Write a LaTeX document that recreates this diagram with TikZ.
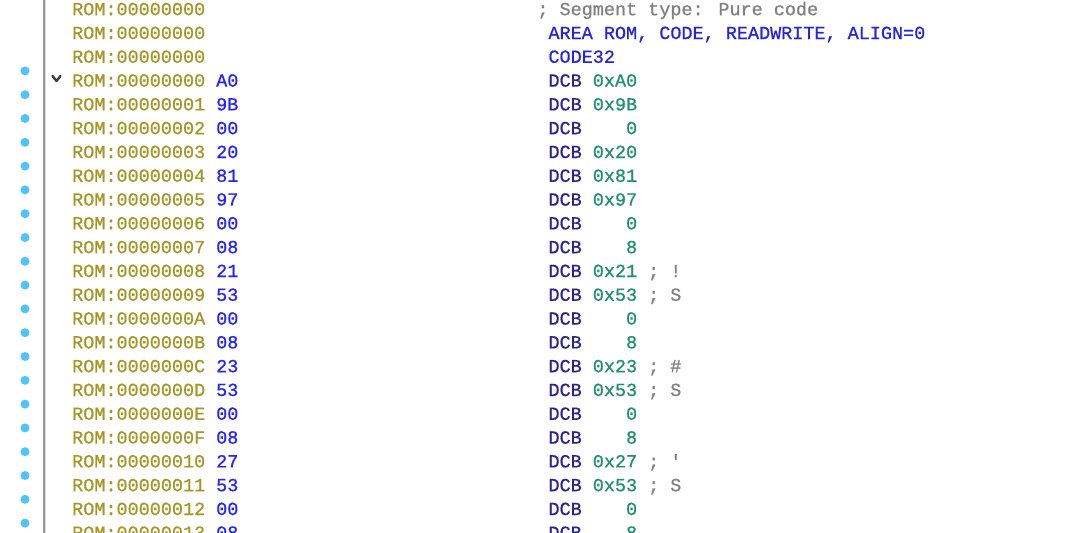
\documentclass[tikz,border=0pt]{standalone}
\usepackage{fontspec}
\newfontfamily\codefont[FakeBold=0.7]{Liberation Mono}
\definecolor{addrc}{RGB}{165,150,35}
\definecolor{bytec}{RGB}{35,35,255}
\definecolor{dcbc}{RGB}{40,35,145}
\definecolor{valc}{RGB}{30,145,110}
\definecolor{cmtc}{RGB}{128,128,128}
\definecolor{dirc}{RGB}{35,35,225}
\definecolor{dotc}{RGB}{80,195,250}
\definecolor{barc}{RGB}{150,150,150}
\definecolor{chevc}{RGB}{60,60,60}
\begin{document}
\begin{tikzpicture}[x=1pt,y=-1pt,
  txt/.style={inner sep=0pt, anchor=base west, font=\codefont\fontsize{18.47}{20}\selectfont},
  addr/.style={txt, text=addrc},
  byte/.style={txt, text=bytec},
  dcb/.style={txt, text=dcbc},
  val/.style={txt, text=valc},
  cmt/.style={txt, text=cmtc},
  dir/.style={txt, text=dirc},
  bluedot/.style={circle, fill=dotc, draw=none, inner sep=0pt, minimum size=9pt},
]
\clip (0,0) rectangle (1080,533);
\fill[white] (0,0) rectangle (1080,533);
% separator bar
\draw[barc, line width=1.4pt] (44,0) -- (44,533);
\draw[black!12, line width=1pt] (45.7,0) -- (45.7,533);
% header rows
\node[addr] (a0) at (72,15.2) {ROM:00000000};
\node[addr] (a1) at (72,39.0) {ROM:00000000};
\node[addr] (a2) at (72,62.8) {ROM:00000000};
\node[cmt] (h0) at (537.2,15.2) {; Segment type: Pure code};
\node[dir] (h1) at (548.3,39.0) {AREA ROM, CODE, READWRITE, ALIGN=0};
\node[dir] (h2) at (548.3,62.8) {CODE32};
% data rows
\foreach \i/\a/\b/\v/\c in {
  3/00000000/A0/0xA0/4,
  4/00000001/9B/0x9B/4,
  5/00000002/00/0/7,
  6/00000003/20/0x20/4,
  7/00000004/81/0x81/4,
  8/00000005/97/0x97/4,
  9/00000006/00/0/7,
  10/00000007/08/8/7,
  11/00000008/21/0x21/4,
  12/00000009/53/0x53/4,
  13/0000000A/00/0/7,
  14/0000000B/08/8/7,
  15/0000000C/23/0x23/4,
  16/0000000D/53/0x53/4,
  17/0000000E/00/0/7,
  18/0000000F/08/8/7,
  19/00000010/27/0x27/4,
  20/00000011/53/0x53/4,
  21/00000012/00/0/7,
  22/00000013/08/8/7}{
  \pgfmathsetmacro\yy{15.2+23.8*\i}
  \pgfmathsetmacro\xv{548.3+11.08*\c}
  \pgfmathsetmacro\yd{\yy-15.7}
  \node[addr] (a\i) at (72,\yy) {ROM:\a};
  \node[byte] (b\i) at (216.0,\yy) {\b};
  \node[dcb] (d\i) at (548.3,\yy) {DCB};
  \node[val] (v\i) at (\xv,\yy) {\v};
  \node[bluedot] (m\i) at (25,\yd) {};
}
% comments
\node[cmt] (c11) at (647.9,15.2+23.8*11) {; !};
\node[cmt] (c12) at (647.9,15.2+23.8*12) {; S};
\node[cmt] (c15) at (647.9,15.2+23.8*15) {; \#};
\node[cmt] (c16) at (647.9,15.2+23.8*16) {; S};
\node[cmt] (c19) at (647.9,15.2+23.8*19) {; \symbol{39}};
\node[cmt] (c20) at (647.9,15.2+23.8*20) {; S};
% collapse chevron
\draw[chevc, line width=2.4pt, line cap=round, line join=round] (52.5,76) -- (56.5,81) -- (60.5,76);
\end{tikzpicture}
\end{document}
